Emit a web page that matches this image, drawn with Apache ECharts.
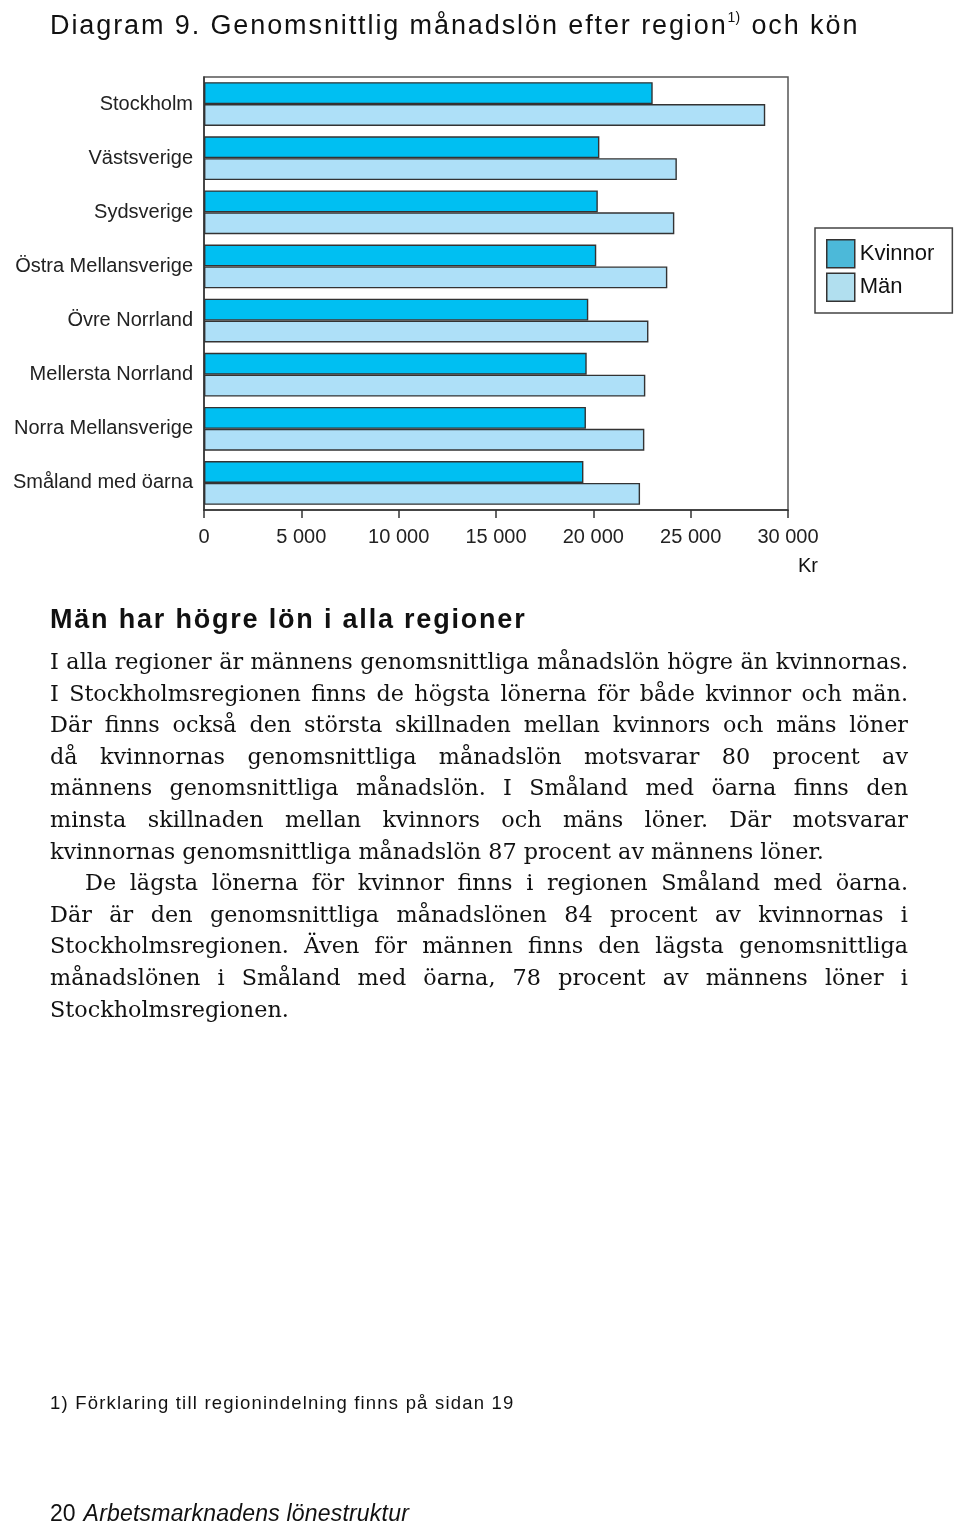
<!DOCTYPE html>
<html>
<head>
<meta charset="utf-8">
<script src="https://cdn.jsdelivr.net/npm/echarts@6/dist/echarts.min.js"></script>
<style>
  html, body { margin: 0; padding: 0; background: #fff; }
  #page { position: relative; width: 960px; height: 1527px; overflow: hidden; }
  #chart { position: absolute; left: 0; top: 0; width: 960px; height: 1527px; }
  .txt { position: absolute; color: #111; white-space: nowrap; }
  #title { left: 50px; top: 0px; font-family: "Liberation Sans", Arial, sans-serif; font-size: 27px; letter-spacing: 1.9px; line-height: 34px; }
  #title sup { font-size: 14px; vertical-align: 12px; letter-spacing: 0; margin-right: 2px; }
  #heading { left: 50px; top: 604px; font-family: "Liberation Sans", Arial, sans-serif; font-weight: bold; font-size: 27px; letter-spacing: 1.8px; }
  #body { position: absolute; left: 50px; top: 646px; width: 858px; font-family: "DejaVu Serif", serif; font-size: 22.3px; line-height: 31.6px; color: #111; }
  #body .l { display: block; text-align: justify; text-align-last: justify; white-space: nowrap; }
  #body .e { text-align-last: left; }
  #body .i { padding-left: 35px; }
  #foot { left: 50px; top: 1392px; font-family: "Liberation Sans", Arial, sans-serif; font-size: 18.5px; letter-spacing: 1.2px; }
  #page-no { left: 50px; top: 1500px; font-family: "Liberation Sans", Arial, sans-serif; font-size: 23px; }
  #page-no i { margin-left: 8px; letter-spacing: 0.2px; }
</style>
</head>
<body>
<div id="page">
  <div id="chart"></div>
  <div class="txt" id="title">Diagram 9. Genomsnittlig månadslön efter region<sup>1)</sup> och kön</div>
  <div class="txt" id="heading">Män har högre lön i alla regioner</div>
  <div id="body">
    <span class="l">I alla regioner är männens genomsnittliga månadslön högre än kvinnornas.</span>
    <span class="l">I Stockholmsregionen finns de högsta lönerna för både kvinnor och män.</span>
    <span class="l">Där finns också den största skillnaden mellan kvinnors och mäns löner</span>
    <span class="l">då kvinnornas genomsnittliga månadslön motsvarar 80 procent av</span>
    <span class="l">männens genomsnittliga månadslön. I Småland med öarna finns den</span>
    <span class="l">minsta skillnaden mellan kvinnors och mäns löner. Där motsvarar</span>
    <span class="l e">kvinnornas genomsnittliga månadslön 87 procent av männens löner.</span>
    <span class="l i">De lägsta lönerna för kvinnor finns i regionen Småland med öarna.</span>
    <span class="l">Där är den genomsnittliga månadslönen 84 procent av kvinnornas i</span>
    <span class="l">Stockholmsregionen. Även för männen finns den lägsta genomsnittliga</span>
    <span class="l">månadslönen i Småland med öarna, 78 procent av männens löner i</span>
    <span class="l e">Stockholmsregionen.</span>
  </div>
  <div class="txt" id="foot">1) Förklaring till regionindelning finns på sidan 19</div>
  <div class="txt" id="page-no">20<i>Arbetsmarknadens lönestruktur</i></div>
</div>
<script>
  // regioner, uppifrån och ned
  const regions = [
    'Stockholm',
    'Västsverige',
    'Sydsverige',
    'Östra Mellansverige',
    'Övre Norrland',
    'Mellersta Norrland',
    'Norra Mellansverige',
    'Småland med öarna'
  ];
  // genomsnittlig månadslön, kr
  const kvinnor = [23050, 20310, 20230, 20150, 19740, 19660, 19620, 19490];
  const man = [28830, 24290, 24160, 23800, 22830, 22670, 22620, 22400];
  const xTicks = [0, 5000, 10000, 15000, 20000, 25000, 30000];

  const font = '"Liberation Sans", Arial, sans-serif';
  const chart = echarts.init(document.getElementById('chart'), null, { renderer: 'canvas' });

  const fmt = v => v === 0 ? '0' : String(v).replace(/\B(?=(\d{3})+(?!\d))/g, ' ');

  chart.setOption({
    animation: false,
    backgroundColor: 'transparent',
    textStyle: { fontFamily: font },
    grid: {
      left: 204, top: 77, width: 584, height: 433,
      show: true, borderColor: '#555', borderWidth: 1.5
    },
    legend: {
      orient: 'vertical',
      left: 815, top: 228,
      padding: [11, 18, 11, 11],
      borderColor: '#444', borderWidth: 1.5,
      icon: 'rect',
      itemWidth: 28, itemHeight: 28, itemGap: 4,
      textStyle: { fontSize: 22, color: '#111', fontFamily: font },
      data: [
        { name: 'Kvinnor', itemStyle: { color: '#4cb9d9', borderColor: '#333', borderWidth: 1.5 } },
        { name: 'Män', itemStyle: { color: '#b1dfef', borderColor: '#333', borderWidth: 1.5 } }
      ]
    },
    xAxis: {
      type: 'value',
      min: xTicks[0], max: xTicks[xTicks.length - 1], interval: 5000,
      axisLine: { show: true, lineStyle: { color: '#333', width: 1.5 } },
      axisTick: { show: true, length: 8, lineStyle: { color: '#333', width: 1.5 } },
      splitLine: { show: false },
      axisLabel: { formatter: fmt, fontSize: 20, color: '#222', margin: 17, fontFamily: font }
    },
    yAxis: {
      type: 'category',
      data: regions,
      inverse: true,
      axisLine: { show: true, lineStyle: { color: '#333', width: 1.5 } },
      axisTick: { show: false },
      axisLabel: { fontSize: 20, color: '#222', margin: 11, fontFamily: font }
    },
    series: [
      {
        name: 'Kvinnor', type: 'bar', data: kvinnor,
        barGap: 0, barCategoryGap: '19%',
        itemStyle: { color: '#00bff2', borderColor: '#333', borderWidth: 1.4 }
      },
      {
        name: 'Män', type: 'bar', data: man,
        barGap: 0, barCategoryGap: '19%',
        itemStyle: { color: '#aee0f8', borderColor: '#333', borderWidth: 1.4 }
      }
    ],
    graphic: [
      { type: 'text', left: 798, top: 556, style: { text: 'Kr', fontSize: 20, fill: '#111', fontFamily: font } }
    ]
  });
</script>
</body>
</html>
